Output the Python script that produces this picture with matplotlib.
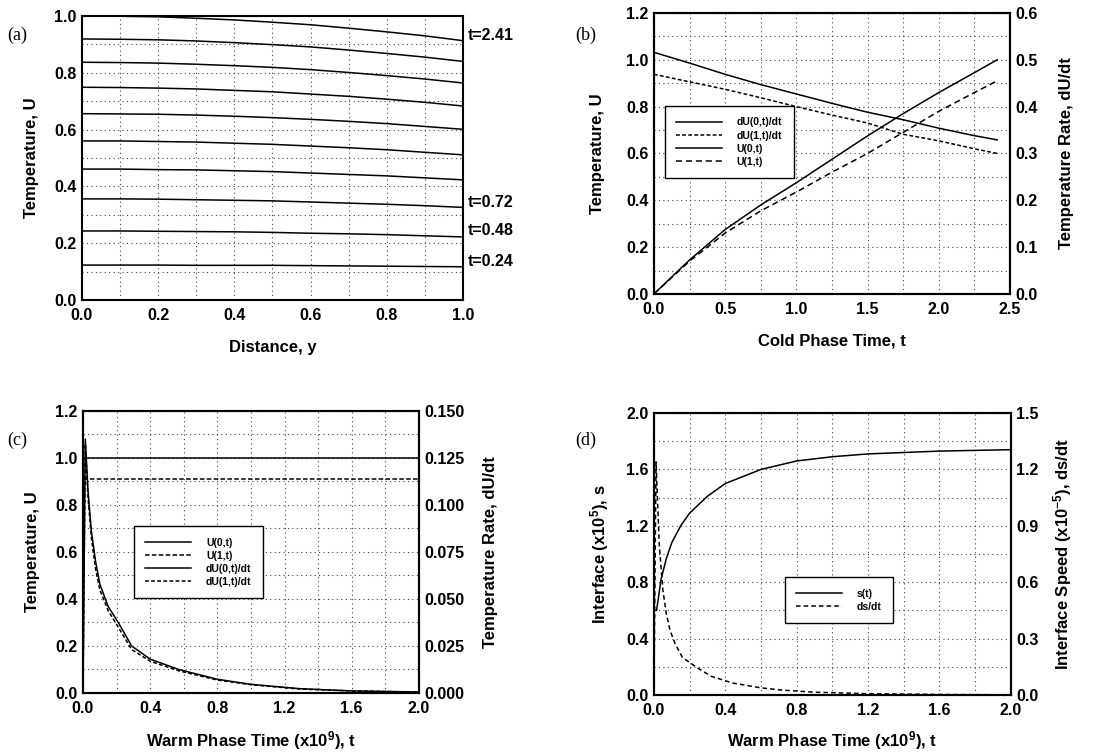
import matplotlib
matplotlib.use('Agg')
import matplotlib.pyplot as plt
import numpy as np
from matplotlib.ticker import FormatStrFormatter

# ---------------------------------------------------------------
# Data
# (a) temperature profiles U(y) at successive cold-phase times
y_pos = [0.0, 0.1, 0.2, 0.3, 0.4, 0.5, 0.6, 0.7, 0.8, 0.9, 1.0]
profiles = [
    [0.123, 0.123, 0.123, 0.122, 0.122, 0.122, 0.121, 0.120, 0.119, 0.118, 0.117],
    [0.243, 0.243, 0.242, 0.241, 0.240, 0.238, 0.235, 0.233, 0.230, 0.226, 0.222],
    [0.356, 0.356, 0.355, 0.353, 0.351, 0.349, 0.345, 0.341, 0.337, 0.332, 0.326],
    [0.461, 0.461, 0.459, 0.458, 0.455, 0.452, 0.447, 0.442, 0.437, 0.430, 0.423],
    [0.560, 0.560, 0.558, 0.556, 0.552, 0.548, 0.542, 0.536, 0.529, 0.520, 0.511],
    [0.656, 0.655, 0.654, 0.651, 0.647, 0.642, 0.636, 0.629, 0.621, 0.611, 0.601],
    [0.749, 0.748, 0.746, 0.743, 0.738, 0.733, 0.725, 0.717, 0.707, 0.696, 0.683],
    [0.837, 0.836, 0.834, 0.830, 0.825, 0.819, 0.811, 0.801, 0.790, 0.778, 0.764],
    [0.919, 0.918, 0.916, 0.912, 0.906, 0.899, 0.891, 0.880, 0.868, 0.855, 0.840],
    [1.000, 0.999, 0.997, 0.992, 0.986, 0.978, 0.969, 0.957, 0.944, 0.930, 0.913],
]
profile_labels = ['t=0.24', 't=0.48', 't=0.72', 't=2.41']
profile_label_y = [0.134, 0.243, 0.345, 0.930]

# (b) cold phase
t_cold = [0.0, 0.25, 0.5, 0.75, 1.0, 1.25, 1.5, 1.75, 2.0, 2.25, 2.41]
u0_cold = [0.0, 0.145, 0.275, 0.38, 0.475, 0.575, 0.675, 0.77, 0.86, 0.945, 1.0]
u1_cold = [0.0, 0.14, 0.26, 0.355, 0.435, 0.52, 0.60, 0.69, 0.78, 0.86, 0.91]
du0_cold = [0.516, 0.493, 0.469, 0.447, 0.427, 0.407, 0.388, 0.372, 0.354, 0.338, 0.329]
du1_cold = [0.469, 0.453, 0.437, 0.419, 0.400, 0.382, 0.365, 0.341, 0.327, 0.310, 0.300]

# (c) warm phase temperatures and rates
t_warm = [0.0, 0.014, 0.03, 0.05, 0.075, 0.1, 0.15, 0.21, 0.29, 0.4, 0.57, 0.8, 1.0, 1.29, 1.6, 2.0]
u0_warm = [1.0] * len(t_warm)
u1_warm = [0.912] * len(t_warm)
du0_warm = [0.0, 0.135, 0.1075, 0.086, 0.070, 0.058, 0.046, 0.0375, 0.025, 0.018,
            0.0125, 0.0073, 0.0046, 0.0023, 0.0011, 0.0005]
du1_warm = [0.0, 0.1325, 0.104, 0.0825, 0.066, 0.055, 0.0438, 0.035, 0.0231, 0.0169,
            0.0118, 0.0069, 0.0044, 0.0021, 0.0011, 0.0005]

# (d) interface position and speed
t_int = [0.0, 0.015, 0.04, 0.07, 0.1, 0.15, 0.2, 0.3, 0.4, 0.6, 0.8, 1.0, 1.2, 1.6, 2.0]
s_int = [0.60, 0.60, 0.82, 0.97, 1.08, 1.20, 1.29, 1.41, 1.50, 1.60, 1.66, 1.69, 1.71, 1.73, 1.74]
t_speed = [0.0, 0.012, 0.03, 0.05, 0.07, 0.09, 0.12, 0.16, 0.24, 0.32, 0.44, 0.6, 0.72, 0.9, 1.2, 1.6, 2.0]
ds_speed = [0.0, 1.24, 0.80, 0.56, 0.43, 0.345, 0.27, 0.20, 0.147, 0.10, 0.064, 0.038,
            0.026, 0.015, 0.007, 0.003, 0.001]

# ---------------------------------------------------------------
plt.rcParams['font.family'] = ['Liberation Sans', 'DejaVu Sans']
plt.rcParams['font.weight'] = 'bold'
plt.rcParams['axes.labelweight'] = 'bold'
plt.rcParams['mathtext.fontset'] = 'custom'
plt.rcParams['mathtext.rm'] = 'Liberation Sans:bold'
plt.rcParams['mathtext.bf'] = 'Liberation Sans:bold'
plt.rcParams['mathtext.it'] = 'Liberation Sans:bold'

TICK_FS = 11.5
LAB_FS = 12
LEG_FS = 7.5
LW = 1.1

fig = plt.figure(figsize=(10.99, 7.53), dpi=100)


def style_axes(ax, xmaj, xmin, ymaj, ymin, xfmt='%.1f', yfmt='%.1f'):
    ax.set_xticks(xmaj)
    ax.set_xticks(xmin, minor=True)
    ax.set_yticks(ymaj)
    ax.set_yticks(ymin, minor=True)
    ax.xaxis.set_major_formatter(FormatStrFormatter(xfmt))
    ax.yaxis.set_major_formatter(FormatStrFormatter(yfmt))
    ax.grid(True, which='both', color='#444444', linestyle=(0, (1, 3)), linewidth=0.8)
    ax.tick_params(which='both', length=0, labelsize=TICK_FS)
    ax.tick_params(axis='x', pad=6)
    ax.tick_params(axis='y', pad=4)
    for lbl in ax.get_xticklabels() + ax.get_yticklabels():
        lbl.set_fontweight('bold')
    for sp in ax.spines.values():
        sp.set_linewidth(1.5)


def style_twin(ax2, ymaj, yfmt):
    ax2.set_yticks(ymaj)
    ax2.yaxis.set_major_formatter(FormatStrFormatter(yfmt))
    ax2.tick_params(which='both', length=0, pad=4, labelsize=TICK_FS)
    for lbl in ax2.get_yticklabels():
        lbl.set_fontweight('bold')
    for sp in ax2.spines.values():
        sp.set_linewidth(1.5)


def legend_box(ax, handles, labels, anchor):
    leg = ax.legend(handles, labels, loc='upper left', bbox_to_anchor=anchor,
                    borderaxespad=0, fontsize=LEG_FS, handlelength=4.4,
                    labelspacing=0.3, borderpad=1.1, handletextpad=1.4,
                    fancybox=False, framealpha=1, edgecolor='black')
    leg.get_frame().set_linewidth(1.0)
    for txt in leg.get_texts():
        txt.set_fontweight('bold')
    return leg


def panel_tag(x, y, tag):
    fig.text(x, y, tag, fontsize=13, family='Liberation Serif',
             fontweight='normal', va='center')


# ---------------- (a) ----------------
ax_a = fig.add_axes([0.0746, 0.6016, 0.3467, 0.3772])
for prof in profiles:
    ax_a.plot(y_pos, prof, color='black', lw=LW)
ax_a.set_xlim(0, 1.0)
ax_a.set_ylim(0, 1.0)
style_axes(ax_a, np.arange(0, 1.01, 0.2), np.arange(0, 1.01, 0.1),
           np.arange(0, 1.01, 0.2), np.arange(0, 1.01, 0.1))
for lab, yv in zip(profile_labels, profile_label_y):
    ax_a.text(1.012, yv, lab, fontsize=TICK_FS, fontweight='bold', va='center', ha='left')
ax_a.set_xlabel('Distance, y', fontsize=LAB_FS, labelpad=12)
ax_a.set_ylabel('Temperature, U', fontsize=LAB_FS, labelpad=11)
panel_tag(0.007, 0.953, '(a)')

# ---------------- (b) ----------------
ax_b = fig.add_axes([0.595, 0.6096, 0.324, 0.3732])
lu0, = ax_b.plot(t_cold, u0_cold, color='black', lw=LW)
lu1, = ax_b.plot(t_cold, u1_cold, color='black', lw=LW, dashes=(4, 2.5))
ax_b.set_xlim(0, 2.5)
ax_b.set_ylim(0, 1.2)
style_axes(ax_b, np.arange(0, 2.51, 0.5), np.arange(0, 2.51, 0.25),
           np.arange(0, 1.21, 0.2), np.arange(0, 1.21, 0.1))
ax_b.set_xlabel('Cold Phase Time, t', fontsize=LAB_FS, labelpad=12)
ax_b.set_ylabel('Temperature, U', fontsize=LAB_FS, labelpad=15)
ax_b2 = ax_b.twinx()
ld0, = ax_b2.plot(t_cold, du0_cold, color='black', lw=LW)
ld1, = ax_b2.plot(t_cold, du1_cold, color='black', lw=LW, dashes=(2.5, 1.5))
ax_b2.set_ylim(0, 0.6)
style_twin(ax_b2, np.arange(0, 0.61, 0.1), '%.1f')
ax_b2.set_ylabel('Temperature Rate, dU/dt', fontsize=LAB_FS, labelpad=15)
legend_box(ax_b2, [ld0, ld1, lu0, lu1],
           ['dU(0,t)/dt', 'dU(1,t)/dt', 'U(0,t)', 'U(1,t)'], (0.031, 0.669))
panel_tag(0.523, 0.953, '(b)')

# ---------------- (c) ----------------
ax_c = fig.add_axes([0.0755, 0.0797, 0.3057, 0.3745])
cu0, = ax_c.plot(t_warm, u0_warm, color='black', lw=LW)
cu1, = ax_c.plot(t_warm, u1_warm, color='black', lw=LW, dashes=(3, 1.5))
ax_c.set_xlim(0, 2.0)
ax_c.set_ylim(0, 1.2)
style_axes(ax_c, np.arange(0, 2.01, 0.4), np.arange(0, 2.01, 0.2),
           np.arange(0, 1.21, 0.2), np.arange(0, 1.21, 0.1))
ax_c.set_xlabel('Warm Phase Time (x10$^{9}$), t', fontsize=LAB_FS, labelpad=9)
ax_c.set_ylabel('Temperature, U', fontsize=LAB_FS, labelpad=11)
ax_c2 = ax_c.twinx()
cd0, = ax_c2.plot(t_warm, du0_warm, color='black', lw=LW)
cd1, = ax_c2.plot(t_warm, du1_warm, color='black', lw=LW, dashes=(2.5, 1.5))
ax_c2.set_ylim(0, 0.15)
style_twin(ax_c2, np.arange(0, 0.151, 0.025), '%.3f')
ax_c2.set_ylabel('Temperature Rate, dU/dt', fontsize=LAB_FS, labelpad=13)
legend_box(ax_c2, [cu0, cu1, cd0, cd1],
           ['U(0,t)', 'U(1,t)', 'dU(0,t)/dt', 'dU(1,t)/dt'], (0.152, 0.592))
panel_tag(0.007, 0.415, '(c)')

# ---------------- (d) ----------------
ax_d = fig.add_axes([0.595, 0.077, 0.3248, 0.3745])
ls_, = ax_d.plot(t_int, s_int, color='black', lw=LW)
ax_d.set_xlim(0, 2.0)
ax_d.set_ylim(0, 2.0)
style_axes(ax_d, np.arange(0, 2.01, 0.4), np.arange(0, 2.01, 0.2),
           np.arange(0, 2.01, 0.4), np.arange(0, 2.01, 0.2))
ax_d.set_xlabel('Warm Phase Time (x10$^{9}$), t', fontsize=LAB_FS, labelpad=8)
ax_d.set_ylabel('Interface (x10$^{5}$), s', fontsize=LAB_FS, labelpad=11)
ax_d2 = ax_d.twinx()
lds, = ax_d2.plot(t_speed, ds_speed, color='black', lw=LW, dashes=(3, 2))
ax_d2.set_ylim(0, 1.5)
style_twin(ax_d2, np.arange(0, 1.51, 0.3), '%.1f')
ax_d2.set_ylabel('Interface Speed (x10$^{-5}$), ds/dt', fontsize=LAB_FS, labelpad=9)
legend_box(ax_d2, [ls_, lds], ['s(t)', 'ds/dt'], (0.367, 0.418))
panel_tag(0.523, 0.415, '(d)')

plt.savefig('out.png', dpi=100)
